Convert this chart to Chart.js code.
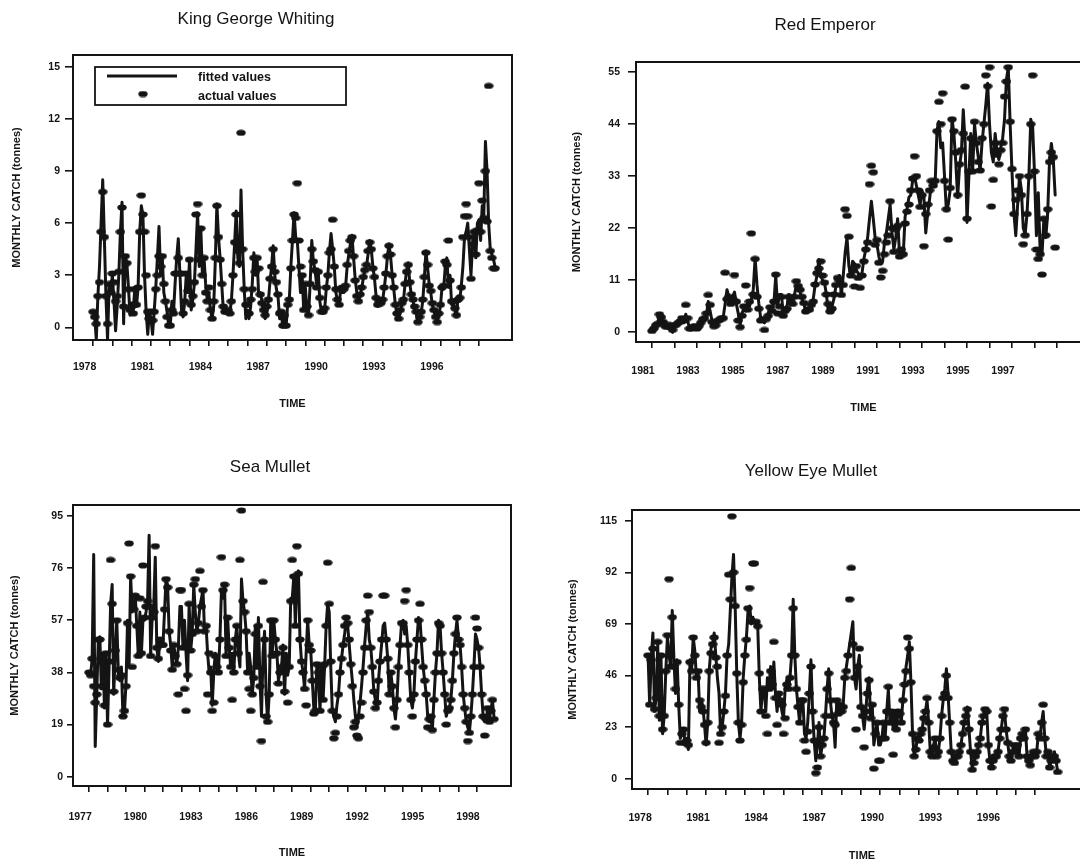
<!DOCTYPE html>
<html><head><meta charset="utf-8">
<script src="https://cdn.jsdelivr.net/npm/chart.js@4.4.1/dist/chart.umd.min.js"></script>
<style>
html,body{margin:0;padding:0;background:#fff;width:1080px;height:865px;overflow:hidden;position:relative;}
.panel{position:absolute;}
canvas{display:block;}
</style></head><body>
<div class="panel" style="left:0px;top:0px;"><canvas id="c1" width="540" height="425" style="width:540px;height:425px"></canvas></div>
<div class="panel" style="left:540px;top:0px;"><canvas id="c2" width="560" height="425" style="width:560px;height:425px"></canvas></div>
<div class="panel" style="left:0px;top:430px;"><canvas id="c3" width="540" height="435" style="width:540px;height:435px"></canvas></div>
<div class="panel" style="left:530px;top:430px;"><canvas id="c4" width="570" height="435" style="width:570px;height:435px"></canvas></div>
<script>
// ---------------- DATA ----------------
const SERIES_LABELS = ['fitted values', 'actual values'];
const Y_AXIS_TITLE = 'MONTHLY CATCH (tonnes)';
const X_AXIS_TITLE = 'TIME';

// King George Whiting (monthly, from Jan 1978)
const KGW_TITLE = 'King George Whiting';
const KGW_START = 1978;
const KGW_FITTED = [
 0.9,0.6,-0.7,1.8,3.5,6.0,8.5,5.2,1.8,-0.7,2.5,2.0,
 3.0,1.5,-0.2,1.2,3.0,5.5,7.2,0.2,4.1,3.7,2.3,0.7,
 1.4,1.0,2.3,1.2,2.3,5.5,7.0,6.5,3.0,0.9,-0.4,0.9,
 0.5,-0.4,0.9,2.3,4.0,5.8,3.0,4.1,2.0,1.5,0.9,0.1,
 0.1,1.5,0.8,2.5,4.0,5.1,3.1,1.0,0.6,1.5,3.1,2.0,
 3.9,1.0,1.6,2.5,4.5,6.6,3.5,5.7,3.0,4.0,2.5,1.6,
 2.0,1.0,0.5,1.2,3.8,7.1,5.2,4.0,2.5,1.0,0.9,0.8,
 0.9,0.8,1.5,3.0,4.8,6.7,4.0,3.5,7.9,4.5,2.2,0.5,
 1.0,0.5,1.2,2.5,4.3,3.0,4.0,1.8,2.0,1.5,0.8,0.5,
 0.8,1.5,2.6,3.5,4.7,3.0,2.2,1.8,0.5,0.8,0.0,0.6,
 0.0,1.3,1.5,3.5,5.0,6.6,5.2,5.0,3.5,2.0,3.0,1.0,
 2.3,1.0,0.7,2.5,5.0,3.8,3.3,2.5,3.3,1.5,0.9,0.8,
 1.0,2.2,3.0,4.4,5.4,4.5,3.5,2.0,1.5,1.3,2.2,2.0,
 2.0,2.3,3.5,4.2,4.8,5.3,4.0,2.8,2.0,1.5,1.8,2.2,
 2.8,3.3,3.5,4.2,5.0,4.5,3.5,2.8,1.8,1.2,1.5,1.3,
 1.5,2.2,3.0,4.0,4.8,4.1,3.0,2.2,1.3,0.7,0.5,0.9,
 1.3,1.5,2.5,3.3,3.7,2.5,1.8,1.5,1.0,0.8,0.3,0.5,
 0.8,1.5,2.8,4.4,3.5,2.5,2.0,1.3,0.9,0.6,0.3,0.7,
 1.2,2.3,2.2,3.5,4.0,2.3,3.0,1.3,1.5,1.0,0.6,1.8,
 1.5,2.4,3.5,5.2,5.5,6.0,4.5,3.0,4.8,5.5,4.0,6.0,
 6.2,5.0,7.0,6.5,10.7,9.0,6.0,4.5,4.2,3.9,3.5
];
const KGW_ACTUAL = [
 0.9,0.6,0.2,1.8,2.6,5.5,7.8,5.2,1.8,0.2,2.5,2.0,
 3.1,2.6,1.5,1.8,3.2,5.5,6.9,1.2,4.1,3.7,2.2,1.0,
 1.2,0.8,2.2,1.3,2.3,5.5,7.6,6.5,5.5,3.0,0.9,0.5,
 0.9,0.4,0.9,2.2,3.0,4.1,3.5,4.1,2.5,1.5,0.6,0.1,
 0.1,1.0,0.8,3.1,3.1,4.0,3.1,3.1,0.8,1.5,3.1,2.1,
 3.9,1.3,1.8,2.6,6.5,7.1,3.9,5.7,3.0,4.0,2.0,1.5,
 2.3,1.0,0.5,1.5,4.0,7.0,5.2,3.9,2.5,1.2,0.9,0.9,
 1.0,0.8,1.5,3.0,4.9,6.5,4.4,3.7,11.2,4.5,2.2,1.3,
 1.3,0.8,1.6,2.2,4.0,3.2,4.0,3.4,1.9,1.4,1.0,0.7,
 1.2,1.6,2.8,3.5,4.5,3.2,2.6,1.9,0.8,0.9,0.1,0.7,
 0.1,1.3,1.6,3.4,5.0,6.5,6.3,8.3,5.0,3.5,3.0,1.0,
 2.5,1.2,0.7,2.5,4.5,3.8,3.3,2.3,3.2,1.7,0.9,0.9,
 1.1,2.3,3.0,4.3,4.5,6.2,3.5,2.2,1.6,1.3,2.2,2.3,
 2.2,2.4,3.6,4.4,5.0,5.2,4.1,2.7,1.8,1.5,1.9,2.3,
 2.9,3.3,3.6,4.4,4.9,4.5,3.4,2.9,1.7,1.3,1.5,1.4,
 1.6,2.3,3.1,4.1,4.7,4.2,3.0,2.3,1.3,0.8,0.5,1.0,
 1.4,1.6,2.5,3.2,3.6,2.6,1.9,1.6,1.2,0.9,0.3,0.6,
 0.9,1.6,2.9,4.3,3.6,2.4,2.1,1.4,1.0,0.6,0.3,0.8,
 1.3,2.3,2.4,3.8,3.6,5.0,2.7,1.5,1.5,1.1,0.7,1.6,
 1.7,2.3,5.2,6.4,7.1,6.4,5.2,2.8,4.8,5.5,4.2,5.6,
 8.3,5.5,7.3,6.3,9.0,6.1,13.9,4.4,4.0,3.4,3.4
];
const KGW_X_TICKS = [1978,1979,1980,1981,1982,1983,1984,1985,1986,1987,1988,1989,1990,1991,1992,1993,1994,1995,1996,1997,1998];
const KGW_X_LABELS = [1978,1981,1984,1987,1990,1993,1996];
const KGW_Y_TICKS = [0,3,6,9,12,15];

// Red Emperor (monthly, from Jan 1981)
const RE_TITLE = 'Red Emperor';
const RE_START = 1981;
const RE_FITTED = [
 0.3,0.8,1.2,2.0,3.5,2.5,2.0,1.5,1.0,1.5,0.5,0.0,
 1.2,1.5,1.8,2.2,2.6,2.0,3.8,2.5,0.8,0.6,1.0,1.2,
 1.0,1.2,1.8,2.5,2.8,3.5,6.5,4.5,2.5,1.5,1.5,2.2,
 2.5,2.8,3.2,6.0,9.0,7.5,6.5,7.5,8.5,6.0,4.0,1.5,
 4.0,5.0,4.5,6.0,5.5,7.0,9.0,15.7,10.0,6.0,3.0,2.5,
 2.0,3.0,4.0,5.0,5.5,6.0,12.0,5.5,8.0,8.0,4.0,5.0,
 5.5,8.0,7.0,6.5,8.0,10.0,9.5,8.5,7.0,6.0,4.5,5.0,
 5.0,5.5,7.0,10.0,12.0,15.4,12.0,11.0,10.5,8.0,4.5,4.4,
 5.5,7.0,9.5,10.5,12.0,7.9,12.0,16.8,20.0,14.0,12.0,15.0,
 14.5,13.0,12.5,11.5,12.5,15.5,17.5,20.0,24.0,27.7,24.0,20.0,
 18.5,16.0,14.5,15.0,19.0,21.0,24.0,27.0,21.0,17.5,20.0,24.0,
 16.5,17.0,16.5,24.5,26.0,28.5,29.0,32.0,33.0,31.0,29.0,27.0,
 30.0,28.5,21.0,25.0,28.0,31.5,31.0,31.5,42.7,44.5,39.0,40.0,
 33.0,25.7,27.0,30.0,45.2,42.0,36.0,28.5,35.0,38.0,47.0,40.0,
 23.2,33.0,42.0,34.0,44.0,40.0,37.0,34.2,40.0,44.0,48.0,52.6,
 44.0,38.0,36.0,42.0,38.0,36.5,39.0,41.0,45.0,53.3,56.0,44.0,
 33.8,25.3,20.4,27.0,33.0,30.0,22.0,20.7,25.0,33.0,45.0,43.4,
 33.5,20.4,29.5,17.0,16.5,24.0,20.0,25.0,36.3,39.9,36.5,29.0
];
const RE_ACTUAL = [
 0.3,0.8,1.5,1.8,3.8,3.2,2.2,1.3,1.2,1.6,1.0,0.5,
 1.5,1.6,2.0,2.3,3.0,2.5,5.8,3.0,0.8,0.8,1.2,1.3,
 0.8,1.3,2.0,2.7,3.0,4.0,7.9,5.8,2.2,1.3,1.5,2.4,
 2.6,3.0,3.0,12.6,7.0,7.5,6.0,7.0,12.1,6.5,2.5,1.1,
 3.5,5.5,9.9,4.8,6.5,20.9,8.0,15.5,7.5,5.0,2.5,2.8,
 0.5,2.8,3.5,5.3,4.5,6.5,12.2,4.0,5.5,7.5,3.5,4.5,
 5.0,7.5,6.5,6.0,7.5,10.8,9.8,9.0,7.5,6.2,4.4,4.8,
 4.8,5.8,6.5,10.1,12.5,13.5,15.0,12.0,10.5,8.0,6.0,4.4,
 5.0,8.0,10.0,11.5,11.0,7.9,10.0,26.0,24.6,20.2,12.0,13.0,
 9.7,14.0,11.5,9.4,12.0,15.0,17.5,19.0,31.3,35.2,33.8,18.5,
 19.5,14.7,11.6,13.0,16.5,19.0,20.5,27.7,22.0,17.0,21.8,22.5,
 16.0,17.5,16.5,23.0,25.5,27.0,30.0,32.5,37.2,33.0,30.0,26.5,
 29.0,18.2,25.0,27.0,30.0,32.0,31.0,32.0,42.5,48.7,44.0,50.5,
 32.0,26.0,19.6,30.5,45.0,42.5,38.0,29.0,35.5,38.5,42.0,51.9,
 24.0,34.0,41.0,34.0,44.5,40.0,36.0,34.2,41.0,44.0,54.3,52.0,
 56.0,26.6,32.2,40.0,37.5,35.5,38.5,40.0,49.8,53.0,56.0,44.5,
 34.5,25.0,28.0,30.0,33.0,29.0,18.6,20.5,25.0,33.0,44.0,54.3,
 34.0,17.5,15.5,16.5,12.2,24.0,20.5,26.0,36.0,38.0,37.0,17.9
];
const RE_X_TICKS = [1981,1982,1983,1984,1985,1986,1987,1988,1989,1990,1991,1992,1993,1994,1995,1996,1997,1998,1999];
const RE_X_LABELS = [1981,1983,1985,1987,1989,1991,1993,1995,1997];
const RE_Y_TICKS = [0,11,22,33,44,55];

// Sea Mullet (monthly, from Jan 1977)
const SM_TITLE = 'Sea Mullet';
const SM_START = 1977;
const SM_FITTED = [
 38,37,43,81,11,30,50,51,32,45,25,45,
 19,40,63,70,30,45,57,38,35,40,22,24,
 34,57,40,73,60,62,66,55,44,60,45,57,
 57,60,64,88,44,58,62,80,47,42,50,48,
 48,60,72,70,53,48,40,48,44,41,47,62,
 62,47,57,45,35,63,46,52,70,60,53,56,
 62,65,68,53,55,45,38,40,26,38,45,40,
 38,50,68,65,70,44,58,47,40,45,38,50,
 55,45,40,72,64,60,53,38,45,40,30,36,
 55,40,58,35,22,45,53,30,20,30,57,45,
 57,50,45,35,38,40,48,30,45,37,40,65,
 65,73,55,72,75,50,42,38,32,45,57,48,
 46,35,25,24,41,38,24,40,28,40,55,63,
 60,40,24,22,20,26,30,38,43,48,52,57,
 55,48,41,35,28,22,18,22,27,33,40,48,
 55,60,50,47,40,31,28,25,35,42,48,55,
 56,50,43,30,38,33,25,21,28,40,48,56,
 57,52,55,48,38,28,25,30,42,50,58,57,
 48,40,35,30,22,20,22,17,28,38,45,57,
 55,45,38,30,22,24,25,28,35,45,52,57,
 50,48,40,30,25,20,18,16,22,30,40,52,
 50,47,40,30,22,20,21,25,21,24,28,22
];
const SM_ACTUAL = [
 38,37,43,33,27,30,50,50,33,42,26,45,
 19,42,79,63,31,46,57,39,36,37,22,24,
 33,56,85,73,40,61,66,55,44,65,45,77,
 58,62,64,62,44,58,60,84,47,43,50,48,
 48,61,72,69,53,46,39,48,44,41,30,68,
 68,47,32,24,37,63,46,52,70,72,53,56,
 75,62,68,53,55,30,45,38,24,27,44,40,
 38,50,80,68,70,44,58,47,40,28,38,50,
 55,45,79,97,64,60,53,38,32,24,30,36,
 52,40,55,33,13,71,50,22,20,30,57,44,
 57,50,45,34,38,40,47,31,44,27,40,64,
 79,73,55,84,74,50,42,38,32,26,57,48,
 46,35,23,24,41,38,24,40,28,41,55,78,
 63,42,24,14,16,22,30,38,43,48,55,58,
 56,50,41,33,18,20,15,14,22,27,38,47,
 57,66,60,47,40,31,25,27,35,42,50,66,
 66,50,43,30,38,33,25,18,28,40,48,56,
 56,64,68,48,38,28,22,30,42,50,57,63,
 50,40,35,30,18,21,22,17,28,38,45,56,
 55,45,38,30,19,24,25,28,35,45,52,58,
 50,48,40,30,25,20,13,16,22,30,40,58,
 54,47,40,30,22,15,21,25,20,24,28,21
];
const SM_X_TICKS = [1977,1978,1979,1980,1981,1982,1983,1984,1985,1986,1987,1988,1989,1990,1991,1992,1993,1994,1995,1996,1997,1998];
const SM_X_LABELS = [1977,1980,1983,1986,1989,1992,1995,1998];
const SM_Y_TICKS = [0,19,38,57,76,95];

// Yellow Eye Mullet (monthly, from Jan 1978)
const YEM_TITLE = 'Yellow Eye Mullet';
const YEM_START = 1978;
const YEM_FITTED = [
 55,33,54,65,30,36,60,26,55,20,28,48,
 63,55,50,75,54,38,53,33,18,20,22,15,
 18,13,53,48,63,57,45,48,30,35,32,24,
 15,25,49,58,60,65,55,45,38,20,23,30,
 38,55,60,75,90,100,77,47,25,18,25,45,
 55,63,75,77,69,72,70,70,68,45,30,40,
 40,30,45,40,50,40,52,38,30,38,35,30,
 27,40,44,40,45,55,80,55,40,32,25,35,
 35,20,18,25,38,53,30,17,8,15,25,10,
 15,18,28,40,49,35,28,25,14,35,30,33,
 30,33,45,50,55,60,65,70,45,40,50,55,
 33,28,22,30,40,45,27,33,15,20,25,15,
 15,18,25,18,30,40,25,30,22,28,22,30,
 30,25,35,42,50,55,61,43,20,10,13,18,
 17,20,22,28,30,35,25,12,10,15,18,10,
 12,18,28,35,40,49,38,25,12,8,7,10,
 10,12,15,20,25,28,32,22,12,5,7,10,
 12,15,18,25,28,30,30,15,8,5,8,10,
 10,12,18,22,28,30,22,16,10,8,12,15,
 12,15,10,18,20,18,22,10,8,6,10,12,
 10,12,20,18,25,30,18,10,12,5,8,10,
 12,8,3
];
const YEM_ACTUAL = [
 55,33,53,58,31,36,61,28,55,22,28,48,
 64,89,50,72,50,40,52,33,16,20,22,16,
 17,15,52,48,63,55,45,48,35,32,30,24,
 16,25,48,56,60,63,54,50,16,20,23,30,
 37,55,91,80,117,92,77,47,25,17,24,43,
 55,62,76,85,70,96,96,70,68,47,30,40,
 40,28,20,40,48,42,61,36,24,38,35,33,
 20,27,42,40,45,55,76,55,40,32,25,35,
 35,17,12,21,38,50,30,17,2.5,5,23,10,
 15,18,28,40,47,35,28,25,24,35,29,33,
 30,32,45,48,55,80,94,60,45,22,50,58,
 32,28,14,30,38,44,27,33,4.5,20,25,8,
 8,18,25,18,30,41,25,30,10.7,28,22,30,
 29,25,35,42,48,63,58,43,20,10,13,18,
 17,20,22,27,30,36,25,12,10,14,18,10,
 12,18,28,36,38,46,36,25,12,8,7,10,
 10,12,15,20,25,28,31,22,12,4,7,10,
 12,15,18,25,28,31,30,15,8,5,8,10,
 10,12,18,22,28,31,22,16,10,8,12,15,
 12,15,10,18,20,18,22,10,8,6,10,12,
 10,12,20,18,25,33,18,10,12,5,8,10,
 10,8,3
];
const YEM_X_TICKS = [1978,1979,1980,1981,1982,1983,1984,1985,1986,1987,1988,1989,1990,1991,1992,1993,1994,1995,1996,1997,1998];
const YEM_X_LABELS = [1978,1981,1984,1987,1990,1993,1996];
const YEM_Y_TICKS = [0,23,46,69,92,115];

// ---------------- RENDERING ----------------
const INK = '#141414';
const FONT = '"Liberation Sans", Arial, Helvetica, sans-serif';

function monthly(start, values) {
  return values.map((v, i) => ({ x: start + i / 12, y: v }));
}

function ellipseMarker() {
  const c = document.createElement('canvas');
  c.width = 10; c.height = 7;
  const g = c.getContext('2d');
  g.fillStyle = INK;
  g.beginPath();
  g.ellipse(5, 3.5, 4.7, 3.1, 0, 0, Math.PI * 2);
  g.fill();
  return c;
}
const MARKER = ellipseMarker();

const framePlugin = {
  id: 'frame',
  afterDatasetsDraw(chart) {
    const { ctx, chartArea: a } = chart;
    ctx.save();
    ctx.strokeStyle = INK;
    ctx.lineWidth = 2;
    ctx.strokeRect(a.left, a.top, a.right - a.left, a.bottom - a.top);
    ctx.restore();
  }
};

const boxLegendPlugin = {
  id: 'boxLegend',
  afterDatasetsDraw(chart, args, o) {
    if (!o || !o.display) return;
    const ctx = chart.ctx;
    const ds = chart.data.datasets;
    ctx.save();
    ctx.fillStyle = '#fff';
    ctx.fillRect(o.x1, o.y1, o.x2 - o.x1, o.y2 - o.y1);
    ctx.strokeStyle = INK;
    ctx.lineWidth = 1.8;
    ctx.strokeRect(o.x1, o.y1, o.x2 - o.x1, o.y2 - o.y1);
    ctx.lineWidth = 3;
    ctx.beginPath();
    ctx.moveTo(o.lineX1, o.row1);
    ctx.lineTo(o.lineX2, o.row1);
    ctx.stroke();
    ctx.drawImage(MARKER, o.dotX - MARKER.width / 2, o.row2 - MARKER.height / 2);
    ctx.fillStyle = INK;
    ctx.font = 'bold 12.5px ' + FONT;
    ctx.textBaseline = 'middle';
    ctx.textAlign = 'left';
    ctx.fillText(ds[0].label, o.textX, o.row1 + 2);
    ctx.fillText(ds[1].label, o.textX, o.row2 + 3);
    ctx.restore();
  }
};

function makePanel(id, p) {
  const ctx = document.getElementById(id);
  return new Chart(ctx, {
    type: 'line',
    data: {
      datasets: [
        {
          label: SERIES_LABELS[0],
          data: monthly(p.start, p.fitted),
          borderColor: INK,
          borderWidth: 3,
          borderJoinStyle: 'round',
          borderCapStyle: 'round',
          pointRadius: 0,
          tension: 0,
          fill: false,
          order: 2
        },
        {
          label: SERIES_LABELS[1],
          data: monthly(p.start, p.actual),
          showLine: false,
          pointStyle: MARKER,
          pointRadius: 4,
          pointHoverRadius: 4,
          backgroundColor: INK,
          borderColor: INK,
          order: 1
        }
      ]
    },
    options: {
      responsive: false,
      animation: false,
      devicePixelRatio: 1,
      events: [],
      layout: { padding: { left: p.padL, right: p.padR, top: 0, bottom: 0 } },
      plugins: {
        legend: { display: false },
        tooltip: { enabled: false },
        title: {
          display: true,
          text: p.title,
          color: INK,
          font: { family: FONT, size: 17, weight: 'normal', lineHeight: 1.2 },
          padding: { top: p.titleTop, bottom: p.titleBottom }
        },
        boxLegend: p.legend || { display: false }
      },
      scales: {
        x: {
          type: 'linear',
          min: p.xMin, max: p.xMax,
          afterBuildTicks: s => { s.ticks = p.xTicks.map(v => ({ value: v })); },
          afterFit: s => { s.height = p.xH; },
          border: { display: false },
          grid: { display: true, drawOnChartArea: false, drawTicks: true, tickLength: 6, color: INK, lineWidth: 1.6 },
          ticks: {
            autoSkip: false, maxRotation: 0, minRotation: 0,
            padding: p.xLabPad, labelOffset: p.labOff,
            color: INK, font: { family: FONT, size: 10.5, weight: 'bold' },
            callback: v => (p.xLabels.includes(v) ? String(v) : '')
          },
          title: {
            display: true, text: X_AXIS_TITLE, color: INK,
            font: { family: FONT, size: 11, weight: 'bold', lineHeight: 1.2 },
            padding: { top: 0, bottom: p.xTitlePad }
          }
        },
        y: {
          type: 'linear',
          min: p.yMin, max: p.yMax,
          afterBuildTicks: s => { s.ticks = p.yTicks.map(v => ({ value: v })); },
          afterFit: s => { s.width = p.yW; },
          border: { display: false },
          grid: { display: true, drawOnChartArea: false, drawTicks: true, tickLength: p.yTl, color: INK, lineWidth: 1.6 },
          ticks: {
            autoSkip: false, padding: p.yLabPad,
            color: INK, font: { family: FONT, size: 10.5, weight: 'bold' },
            callback: v => String(v)
          },
          title: {
            display: true, text: Y_AXIS_TITLE, color: INK,
            font: { family: FONT, size: 11, weight: 'bold', lineHeight: 1.2 },
            padding: { top: p.yTitlePad, bottom: 0 }
          }
        }
      }
    },
    plugins: [framePlugin, boxLegendPlugin]
  });
}

makePanel('c1', {
  title: KGW_TITLE, start: KGW_START, fitted: KGW_FITTED, actual: KGW_ACTUAL,
  xTicks: KGW_X_TICKS, xLabels: KGW_X_LABELS, yTicks: KGW_Y_TICKS,
  xMin: 1976.96, xMax: 1999.71, yMin: -0.73, yMax: 15.68,
  padL: 0, padR: 28, titleTop: 8.8, titleBottom: 25.8,
  yW: 73, yTl: 8, yLabPad: 5, yTitlePad: 10.4,
  xH: 85, xLabPad: 14.7, xTitlePad: 14.4, labOff: -8.5,
  legend: { display: true, x1: 95, y1: 67, x2: 346, y2: 105, lineX1: 107, lineX2: 177, dotX: 143, row1: 76, row2: 94, textX: 198 }
});

makePanel('c2', {
  title: RE_TITLE, start: RE_START, fitted: RE_FITTED, actual: RE_ACTUAL,
  xTicks: RE_X_TICKS, xLabels: RE_X_LABELS, yTicks: RE_Y_TICKS,
  xMin: 1980.29, xMax: 2000.51, yMin: -2.05, yMax: 57.1,
  padL: 19, padR: 9, titleTop: 14.8, titleBottom: 26.8,
  yW: 77, yTl: 8, yLabPad: 8, yTitlePad: 11.1,
  xH: 83, xLabPad: 16.4, xTitlePad: 10.1, labOff: -9
});

makePanel('c3', {
  title: SM_TITLE, start: SM_START, fitted: SM_FITTED, actual: SM_ACTUAL,
  xTicks: SM_X_TICKS, xLabels: SM_X_LABELS, yTicks: SM_Y_TICKS,
  xMin: 1976.13, xMax: 1999.84, yMin: -3.39, yMax: 99.0,
  padL: 29, padR: 29, titleTop: 26.8, titleBottom: 27.8,
  yW: 44, yTl: 6, yLabPad: 4, yTitlePad: -21.1,
  xH: 79, xLabPad: 18.4, xTitlePad: 5.1, labOff: -9
});

makePanel('c4', {
  title: YEM_TITLE, start: YEM_START, fitted: YEM_FITTED, actual: YEM_ACTUAL,
  xTicks: YEM_X_TICKS, xLabels: YEM_X_LABELS, yTicks: YEM_Y_TICKS,
  xMin: 1977.17, xMax: 2000.94, yMin: -4.6, yMax: 119.8,
  padL: 0, padR: 8, titleTop: 31.5, titleBottom: 28.1,
  yW: 102, yTl: 7, yLabPad: 8, yTitlePad: 36.7,
  xH: 76, xLabPad: 17, xTitlePad: 2.4, labOff: -8
});
</script>
</body></html>
